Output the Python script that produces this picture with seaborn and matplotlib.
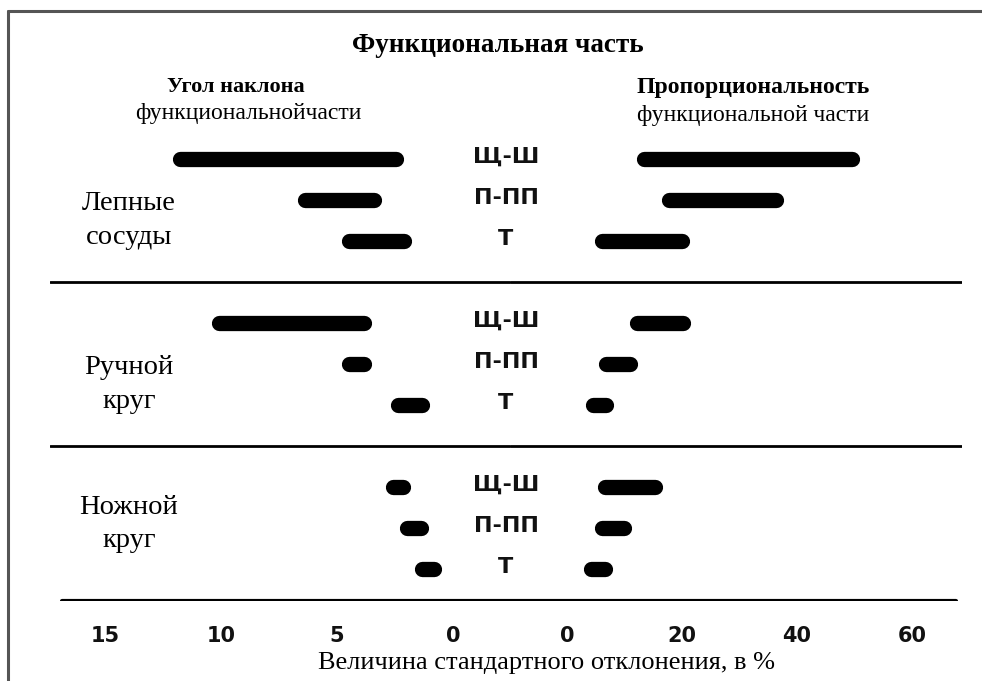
import numpy as np
import pandas as pd
import matplotlib
matplotlib.use("Agg")
import matplotlib.pyplot as plt
from matplotlib.lines import Line2D
from matplotlib.transforms import blended_transform_factory
import seaborn as sns

# ---------------- data ----------------
groups = ["Лепные\nсосуды", "Ручной\nкруг", "Ножной\nкруг"]
shapes = ["Щ-Ш", "П-ПП", "Т"]
# slope angle of the functional part (std. deviation, %), range per bar
angle_lo = [2.45, 3.4, 2.1, 3.85, 3.85, 1.35, 2.15, 1.4, 0.8]
angle_hi = [11.75, 6.4, 4.5, 10.1, 4.5, 2.35, 2.6, 2.0, 1.35]
# proportionality of the functional part (std. deviation, %)
prop_lo = [13.4, 17.7, 6.1, 12.2, 6.8, 4.5, 6.6, 6.1, 4.2]
prop_hi = [49.6, 36.3, 20.0, 20.2, 11.0, 6.8, 15.3, 9.9, 6.6]
left_ticks = [15, 10, 5, 0]
right_ticks = [0, 20, 40, 60]

title = "Функциональная часть"
left_head = ("Угол наклона", "функциональнойчасти")
right_head = ("Пропорциональность", "функциональной части")
xlabel = "Величина стандартного отклонения, в %"

# ---------------- build long table ----------------
rows = []
bar_id = 0
for gi, g in enumerate(groups):
    for si, s in enumerate(shapes):
        k = gi * 3 + si
        row = gi * 4 + si
        for v in (angle_lo[k], angle_hi[k]):
            rows.append(dict(panel="angle", bar=bar_id, row=row, value=v))
        for v in (prop_lo[k], prop_hi[k]):
            rows.append(dict(panel="prop", bar=bar_id, row=row, value=v))
        bar_id += 1
df = pd.DataFrame(rows)

sns.set_theme(style="white")
plt.rcParams["font.family"] = ["Liberation Serif", "DejaVu Serif"]
plt.rcParams["text.color"] = "black"

W, H = 982, 681
fig = plt.figure(figsize=(W / 100, H / 100), dpi=100)

def px_ax(x0, x1, y0, y1):
    return fig.add_axes([x0 / W, 1 - y1 / H, (x1 - x0) / W, (y1 - y0) / H])

y_top_px, y_bot_px = 140, 601
row0_px, row_step = 159, 41
ylim = ((y_bot_px - row0_px) / row_step, (y_top_px - row0_px) / row_step)

axL = px_ax(50, 510, y_top_px, y_bot_px)
axR = px_ax(510, 962, y_top_px, y_bot_px)

# left axis scale: 0 at 453 px, 23.2 px per unit (reversed)
axL.set_xlim((453 - 50) / 23.2, (453 - 510) / 23.2)
# right axis scale: 0 at 567 px, 5.75 px per unit
axR.set_xlim((510 - 567) / 5.75, (962 - 567) / 5.75)

for ax, panel, ticks in ((axL, "angle", left_ticks), (axR, "prop", right_ticks)):
    sns.lineplot(data=df[df.panel == panel], x="value", y="row", units="bar",
                 estimator=None, color="black", linewidth=11,
                 solid_capstyle="round", legend=False, ax=ax, sort=False)
    ax.set_ylim(*ylim)
    ax.set_xticks(ticks)
    ax.set_xticklabels([str(t) for t in ticks])
    ax.set_yticks([])
    ax.set_xlabel("")
    ax.set_ylabel("")
    for sp in ax.spines.values():
        sp.set_visible(False)
    ax.tick_params(axis="x", length=0, pad=18)
    for lab in ax.get_xticklabels():
        lab.set_fontfamily(["DejaVu Sans"])
        lab.set_fontweight("bold")
        lab.set_fontsize(15)
        lab.set_color("#111111")
    for sep in (3, 7):
        ax.axhline(sep, color="black", lw=2)
    ax.axhline(ylim[0], color="black", lw=3,
               xmin=(12 / 460) if ax is axL else 0,
               xmax=1 if ax is axL else (446 / 452))
    ax.patch.set_alpha(0)

# labels
trL = blended_transform_factory(fig.transFigure, axL.transData)
for gi, g in enumerate(groups):
    offset = [1.5, 1.5, 0.9][gi]
    axL.text(129 / W, gi * 4 + offset, g, transform=trL, ha="center",
             va="center", fontsize=20.5, linespacing=1.45, color="black")
    for si, s in enumerate(shapes):
        axL.text(506 / W, gi * 4 + si - 0.05, s, transform=trL, ha="center",
                 va="center", fontsize=16, family=["DejaVu Sans"],
                 fontweight="bold", color="#111111")

fig.text(498 / W, 1 - 45 / H, title, ha="center", va="center",
         fontsize=19.5, fontweight="bold", color="black")
fig.text(236 / W, 1 - 87 / H, left_head[0], ha="center", va="center",
         fontsize=16, fontweight="bold", color="black")
fig.text(248 / W, 1 - 113 / H, left_head[1], ha="center", va="center",
         fontsize=17, color="black")
fig.text(753 / W, 1 - 87 / H, right_head[0], ha="center", va="center",
         fontsize=17, fontweight="bold", color="black")
fig.text(753 / W, 1 - 115 / H, right_head[1], ha="center", va="center",
         fontsize=17, color="black")
fig.text(547 / W, 1 - 663 / H, xlabel, ha="center", va="center",
         fontsize=19, color="black")

# outer frame (left and top edges)
fig.add_artist(Line2D([8 / W, 8 / W], [0, 1 - 11 / H], transform=fig.transFigure,
                      color="#555555", lw=2.2))
fig.add_artist(Line2D([8 / W, 1], [1 - 11 / H, 1 - 11 / H], transform=fig.transFigure,
                      color="#555555", lw=2.2))

fig.savefig("out.png", dpi=100, facecolor="white")
